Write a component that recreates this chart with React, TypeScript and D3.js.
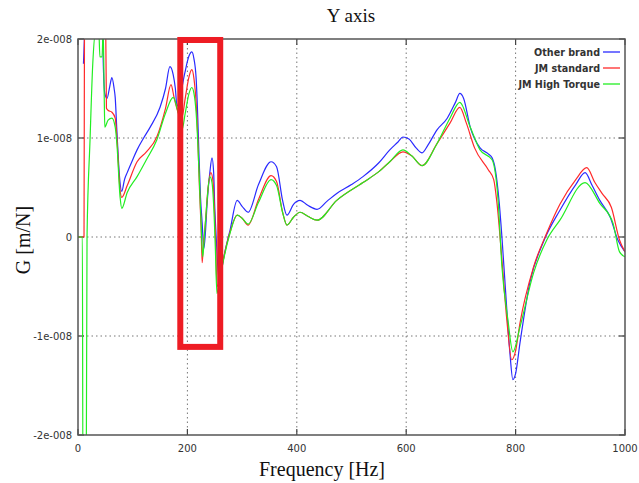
import React from "react";
import * as d3 from "d3";

// values in units of 1e-9 m/N
const otherBrand: [number, number][] = [
  [10, 17.5], [13, 22], [20, 28], [35, 30], [44, 24], [46, 18], [49, 14.5], [53, 14.0], [58, 15.2], [62, 16.1], [66, 15], [68, 14.1], [71, 10.8], [76, 6], [80, 4.6], [85, 5.8], [90, 6.5], [100, 7.8], [108, 8.8], [120, 10], [132, 11.1], [150, 13.1], [160, 15], [168, 17.2], [174, 16.4], [178, 15.0], [181, 13.2], [186, 14.0], [195, 16.5], [203, 18.3], [208, 18.7], [212, 18], [216, 16], [219, 12], [221, 8.5], [224, 4.0], [227, 1.4], [230, -1.2], [233, 0.5], [236, 3.4], [241, 6.5], [245, 8.0], [248, 6.5], [250, 3], [252, 0.7], [255, -2.5], [258, -4.3], [262, -3.5], [266, -2.2], [278, 0.7], [291, 3.7], [300, 3.1], [311, 2.5], [330, 5.3], [353, 7.6], [363, 7.1], [374, 3.7], [382, 2.2], [394, 3.3], [406, 3.7], [420, 3.2], [437, 2.8], [455, 3.6], [473, 4.4], [500, 5.3], [521, 6.1], [550, 7.5], [570, 8.8], [585, 9.6], [594, 10.1], [605, 9.9], [618, 9.0], [629, 8.5], [640, 9.3], [656, 10.8], [675, 12.0], [690, 13.6], [698, 14.5], [705, 14.0], [717, 11.1], [735, 9.0], [750, 8.4], [757, 8.0], [763, 6.8], [770, 3.5], [775, 0], [784, -7.4], [790, -12], [795, -14.4], [800, -13.8], [808, -10.7], [826, -4.6], [850, -0.6], [881, 2.7], [910, 5.3], [927, 6.5], [940, 5.2], [954, 3.7], [973, 2.0], [987, -0.3], [1000, -1.5],
];

const jmStandard: [number, number][] = [
  [0, 0], [10, 0], [11, 0], [12, 25], [30, 30], [50, 25], [52, 13], [55, 12.8], [62, 12.6], [68, 12.0], [71, 10.1], [77, 4.7], [80, 4.0], [90, 5.2], [108, 7.6], [125, 8.6], [144, 10.1], [160, 13], [170, 15.4], [176, 14.0], [183, 12.6], [190, 12.1], [196, 14.0], [203, 16.2], [208, 16.9], [212, 16], [216, 13.5], [219, 10], [222, 5], [225, 1], [227, -2.6], [229, -1], [233, 1.5], [237, 4.5], [243, 6.5], [247, 5.5], [250, 2], [252, -1], [254, -5.0], [258, -4.5], [263, -3], [278, 0.5], [291, 2.2], [300, 1.9], [311, 1.2], [330, 3.8], [353, 6.2], [363, 5.6], [374, 2.5], [382, 1.2], [394, 2.0], [406, 2.5], [420, 2.1], [437, 1.7], [473, 3.7], [521, 5.5], [550, 6.6], [570, 7.6], [594, 8.6], [610, 8.2], [629, 7.2], [656, 9.4], [680, 11.5], [698, 13.1], [710, 11.5], [725, 9.0], [750, 6.8], [760, 5.8], [766, 3.4], [775, -2.3], [784, -8.4], [793, -12.4], [800, -11.5], [808, -8.7], [833, -3.0], [857, 0.4], [881, 3.3], [910, 5.8], [930, 7.0], [945, 5.5], [958, 4.4], [975, 3.0], [990, -0.3], [1000, -1.5],
];

const jmHighTorque: [number, number][] = [
  [0, 0], [8, 0], [9, -25], [15, -25], [16.5, 0], [22, 9.8], [27, 17.5], [33, 21], [38, 21], [40, 18.2], [44, 18.2], [46, 21], [48, 14], [49, 11.1], [55, 11.8], [62, 12.0], [68, 11.1], [71, 9.5], [77, 4], [80, 2.9], [90, 4.5], [108, 6.1], [125, 7.8], [144, 9.8], [160, 12.5], [174, 14.1], [183, 12.6], [190, 10.8], [196, 12.5], [203, 14.5], [208, 15.1], [212, 14.5], [216, 12.5], [219, 9.5], [222, 5.5], [225, 1.5], [228, -2.0], [231, 0], [235, 3], [241, 6.1], [245, 5.5], [249, 2], [251, -1], [254, -5.7], [258, -4.8], [263, -3.2], [278, 0.4], [291, 2.2], [300, 1.9], [311, 1.3], [330, 3.5], [353, 5.8], [363, 5.2], [374, 2.5], [382, 1.2], [394, 2.0], [406, 2.5], [420, 2.1], [437, 1.7], [473, 3.7], [521, 5.5], [550, 6.6], [570, 7.6], [594, 8.8], [610, 8.2], [629, 7.2], [656, 9.4], [680, 12], [698, 13.6], [717, 11.1], [735, 8.8], [757, 7.8], [768, 3.7], [775, -3.0], [786, -8.4], [795, -11.6], [808, -9.1], [833, -3.6], [857, -0.3], [881, 1.7], [927, 5.5], [954, 3.4], [978, 1.4], [990, -1.5], [1000, -2.0],
];

const seriesNames = ["Other brand", "JM standard", "JM High Torque"];
const seriesColors = ["#2a2aff", "#ff2a2a", "#22ee22"];
const xTicks = [0, 200, 400, 600, 800, 1000];
const yTicks = [-20, -10, 0, 10, 20];
const yTickLabels = ["-2e-008", "-1e-008", "0", "1e-008", "2e-008"];
const highlight = { x0: 187, x1: 260, y0: 19.9, y1: -11.1 };

export default function App() {
  const L = 78, R = 625, T = 39, B = 435;
  const x = d3.scaleLinear().domain([0, 1000]).range([L, R]);
  const y = d3.scaleLinear().domain([-20, 20]).range([B, T]);
  const line = d3
    .line<[number, number]>()
    .x((d) => x(d[0]))
    .y((d) => y(d[1]))
    .curve(d3.curveMonotoneX);
  const series = [otherBrand, jmStandard, jmHighTorque];
  const sans = "DejaVu Sans, Verdana, sans-serif";
  const serif = "Liberation Serif, Times New Roman, serif";

  return (
    <svg
      width={639}
      height={483}
      style={{ position: "absolute", left: 0, top: 0, background: "#fff" }}
    >
      <defs>
        <clipPath id="plot">
          <rect x={L} y={T} width={R - L} height={B - T} />
        </clipPath>
      </defs>
      <rect x={0} y={0} width={639} height={483} fill="#fff" />
      {/* grid */}
      {xTicks.slice(1, -1).map((t) => (
        <line key={"gx" + t} x1={x(t)} x2={x(t)} y1={T} y2={B} stroke="#777" strokeWidth={1} strokeDasharray="1.5,3" />
      ))}
      {yTicks.slice(1, -1).map((t) => (
        <line key={"gy" + t} x1={L} x2={R} y1={y(t)} y2={y(t)} stroke="#777" strokeWidth={1} strokeDasharray="1.5,3" />
      ))}
      {/* ticks */}
      {xTicks.map((t) => (
        <g key={"tx" + t}>
          <line x1={x(t)} x2={x(t)} y1={B} y2={B - 6} stroke="#444" strokeWidth={1.2} />
          <line x1={x(t)} x2={x(t)} y1={T} y2={T + 6} stroke="#444" strokeWidth={1.2} />
          <text x={x(t)} y={452} textAnchor="middle" fontFamily={sans} fontSize={10} fill="#333">
            {t}
          </text>
        </g>
      ))}
      {yTicks.map((t, i) => (
        <g key={"ty" + t}>
          <line x1={L} x2={L + 6} y1={y(t)} y2={y(t)} stroke="#444" strokeWidth={1.2} />
          <line x1={R} x2={R - 6} y1={y(t)} y2={y(t)} stroke="#444" strokeWidth={1.2} />
          <text x={72} y={y(t) + 3.5} textAnchor="end" fontFamily={sans} fontSize={10} fill="#333">
            {yTickLabels[i]}
          </text>
        </g>
      ))}
      {/* series */}
      <g clipPath="url(#plot)">
        {series.map((s, i) => (
          <path key={i} d={line(s) || ""} fill="none" stroke={seriesColors[i]} strokeWidth={1.2} />
        ))}
      </g>
      {/* frame */}
      <rect x={L} y={T} width={R - L} height={B - T} fill="none" stroke="#555" strokeWidth={1.5} />
      {/* legend */}
      {seriesNames.map((n, i) => (
        <g key={n}>
          <text x={600} y={55.5 + i * 16} textAnchor="end" fontFamily={sans} fontSize={9.6} fontWeight="bold" fill="#333">
            {n}
          </text>
          <line x1={603} x2={620} y1={52 + i * 16} y2={52 + i * 16} stroke={seriesColors[i]} strokeWidth={1.3} />
        </g>
      ))}
      {/* highlight box */}
      <rect
        x={x(highlight.x0)}
        y={y(highlight.y0)}
        width={x(highlight.x1) - x(highlight.x0)}
        height={y(highlight.y1) - y(highlight.y0)}
        fill="none"
        stroke="#ee1c24"
        strokeWidth={6}
      />
      {/* titles */}
      <text x={351} y={22} textAnchor="middle" fontFamily={serif} fontSize={19} fill="#111">
        Y axis
      </text>
      <text x={322} y={476} textAnchor="middle" fontFamily={serif} fontSize={20} fill="#111">
        Frequency [Hz]
      </text>
      <text
        transform="translate(30,240) rotate(-90)"
        textAnchor="middle"
        fontFamily={serif}
        fontSize={20}
        fill="#111"
      >
        G [m/N]
      </text>
    </svg>
  );
}
